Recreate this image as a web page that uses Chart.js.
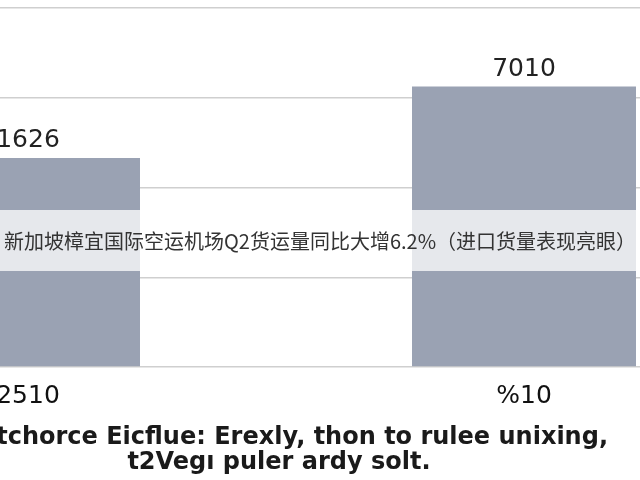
<!DOCTYPE html>
<html>
<head>
<meta charset="utf-8">
<script src="https://cdn.jsdelivr.net/npm/chart.js@4"></script>
<style>
  html, body { margin:0; padding:0; width:640px; height:480px; overflow:hidden; background:#fff; }
  #wrap { position:absolute; left:-220px; top:0; width:992px; height:425px; }
  #band { position:absolute; left:0; top:210px; width:640px; height:61px; background:rgba(255,255,255,0.75);
          font-family:"Noto Sans CJK SC", sans-serif; font-size:20px; color:#333; line-height:61px;
          text-align:center; white-space:nowrap; }
  .foot { position:absolute; font-family:"DejaVu Sans", sans-serif; font-weight:bold; font-size:24px;
          line-height:25px; color:#1a1a1a; white-space:nowrap; }
  #foot1 { right:32px; top:424px; text-align:right; }
  #foot2 { left:-221px; width:1000px; top:449px; text-align:center; }
</style>
</head>
<body>
<div id="wrap"><canvas id="c"></canvas></div>
<div id="band"></div>
<div id="foot1" class="foot"></div>
<div id="foot2" class="foot"></div>
<script>
const categories = ["2510", "%10"];
const values = [4660, 6250];
const barLabels = ["1626", "7010"];
const yTicks = [0, 2000, 4000, 6000, 8000];
const titleText = "新加坡樟宜国际空运机场Q2货运量同比大增6.2%（进口货量表现亮眼）";
const footLines = ["tchorce Eicflue: Erexly, thon to rulee unixing,", "t2Vegı puler ardy solt."];

document.getElementById('band').textContent = titleText;
document.getElementById('foot1').textContent = footLines[0];
document.getElementById('foot2').textContent = footLines[1];

const labelPlugin = {
  id: 'barLabels',
  afterDatasetsDraw(chart) {
    const ctx = chart.ctx;
    const meta = chart.getDatasetMeta(0);
    ctx.save();
    ctx.font = '25px "DejaVu Sans", sans-serif';
    ctx.fillStyle = '#222';
    ctx.textAlign = 'center';
    ctx.textBaseline = 'alphabetic';
    meta.data.forEach((bar, i) => {
      ctx.fillText(barLabels[i], bar.x, bar.y - 11);
    });
    ctx.restore();
  }
};

new Chart(document.getElementById('c'), {
  type: 'bar',
  data: {
    labels: categories,
    datasets: [{
      data: values,
      backgroundColor: '#9aa2b3',
      borderWidth: 0,
      barPercentage: 0.4516,
      categoryPercentage: 1.0
    }]
  },
  options: {
    responsive: true,
    maintainAspectRatio: false,
    animation: false,
    devicePixelRatio: 1,
    layout: { padding: { top: 8, left: 0, right: 0, bottom: 0 } },
    plugins: { legend: { display: false }, tooltip: { enabled: false }, title: { display: false } },
    scales: {
      x: {
        grid: { display: false, drawTicks: false },
        border: { display: false },
        ticks: { color: '#111', font: { family: '"DejaVu Sans", sans-serif', size: 25 }, padding: 14 }
      },
      y: {
        min: yTicks[0], max: yTicks[yTicks.length - 1],
        afterBuildTicks(scale) { scale.ticks = yTicks.map(v => ({ value: v })); },
        grid: { color: '#cfcfcf', lineWidth: 1.5, drawTicks: false },
        border: { display: false },
        ticks: { display: false }
      }
    }
  },
  plugins: [labelPlugin]
});
</script>
</body>
</html>
